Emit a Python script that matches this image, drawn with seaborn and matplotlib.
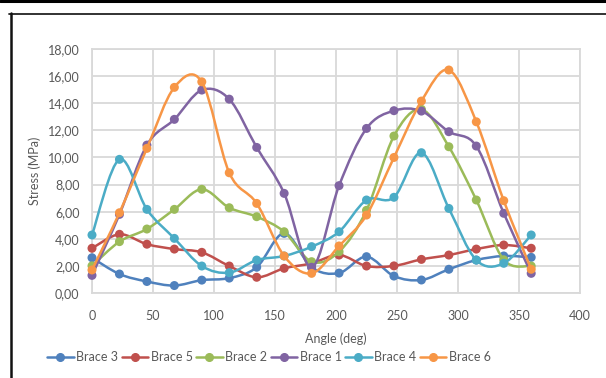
import matplotlib
matplotlib.use("Agg")
import numpy as np
import pandas as pd
import seaborn as sns
import matplotlib.pyplot as plt
from matplotlib.path import Path
from matplotlib.patches import PathPatch
from matplotlib.lines import Line2D
from matplotlib.ticker import FuncFormatter, MultipleLocator

# Stress in each brace versus rotation angle
angles = [0, 22.5, 45, 67.5, 90, 112.5, 135, 157.5, 180,
          202.5, 225, 247.5, 270, 292.5, 315, 337.5, 360]

brace_3 = [2.60, 1.40, 0.85, 0.55, 0.95, 1.10, 1.90, 4.40, 1.90,
           1.47, 2.68, 1.25, 0.96, 1.75, 2.43, 2.73, 2.63]
brace_5 = [3.30, 4.33, 3.60, 3.24, 3.00, 1.99, 1.16, 1.82, 2.19,
           2.80, 1.99, 2.00, 2.48, 2.80, 3.24, 3.54, 3.30]
brace_2 = [2.00, 3.79, 4.72, 6.17, 7.65, 6.29, 5.63, 4.52, 2.31,
           3.05, 6.10, 11.58, 13.55, 10.79, 6.86, 2.45, 1.99]
brace_1 = [1.30, 5.80, 10.91, 12.81, 14.97, 14.30, 10.74, 7.35, 1.90,
           7.92, 12.14, 13.45, 13.42, 11.90, 10.84, 5.88, 1.45]
brace_4 = [4.28, 9.86, 6.17, 4.03, 1.99, 1.50, 2.43, 2.73, 3.42,
           4.52, 6.86, 7.06, 10.35, 6.24, 2.43, 2.19, 4.28]
brace_6 = [1.70, 5.92, 10.67, 15.17, 15.58, 8.87, 6.61, 2.73, 1.45,
           3.47, 5.75, 10.00, 14.16, 16.45, 12.63, 6.81, 1.75]

series_names = ["Brace 3", "Brace 5", "Brace 2", "Brace 1", "Brace 4", "Brace 6"]
series_values = [brace_3, brace_5, brace_2, brace_1, brace_4, brace_6]
colors = ["#4F81BD", "#C0504D", "#9BBB59", "#8064A2", "#4BACC6", "#F79646"]

df = pd.concat(
    [pd.DataFrame({"Angle": angles, "Stress": vals, "Series": name})
     for name, vals in zip(series_names, series_values)],
    ignore_index=True,
)

sns.set_theme(style="white")
plt.rcParams["font.family"] = ["Lato", "DejaVu Sans"]

fig = plt.figure(figsize=(6.06, 3.78), dpi=100)
ax = fig.add_axes([92 / 606, 1 - 293 / 378, (580 - 92) / 606, (293 - 49) / 378])


def smooth_path(xs, ys):
    """Cubic Bezier path through the points (Catmull-Rom style smoothing)."""
    pts = np.column_stack([xs, ys]).astype(float)
    n = len(pts)
    verts = [pts[0]]
    codes = [Path.MOVETO]
    for i in range(n - 1):
        p0 = pts[i - 1] if i > 0 else pts[i]
        p1 = pts[i]
        p2 = pts[i + 1]
        p3 = pts[i + 2] if i + 2 < n else pts[i + 1]
        c1 = p1 + (p2 - p0) / 6.0
        c2 = p2 - (p3 - p1) / 6.0
        verts += [c1, c2, p2]
        codes += [Path.CURVE4] * 3
    return Path(verts, codes)


for k, (name, color) in enumerate(zip(series_names, colors)):
    sub = df[df["Series"] == name]
    patch = PathPatch(smooth_path(sub["Angle"], sub["Stress"]), facecolor="none",
                      edgecolor=color, lw=1.8, zorder=3 + k * 0.1,
                      capstyle="round", joinstyle="round")
    ax.add_patch(patch)
    sns.scatterplot(data=sub, x="Angle", y="Stress", color=color, s=42,
                    edgecolor="none", ax=ax, legend=False, zorder=3.05 + k * 0.1,
                    clip_on=False)

ax.set_xlim(0, 400)
ax.set_ylim(0, 18)
ax.xaxis.set_major_locator(MultipleLocator(50))
ax.yaxis.set_major_locator(MultipleLocator(2))
ax.yaxis.set_major_formatter(FuncFormatter(lambda v, p: f"{v:.2f}".replace(".", ",")))
ax.grid(True, color="#D9D9D9", lw=1.3)
ax.set_axisbelow(True)
for sp in ax.spines.values():
    sp.set_color("#D9D9D9")
    sp.set_linewidth(1.3)
ax.tick_params(axis="both", length=0, labelsize=9, colors="#595959", pad=9)
ax.tick_params(axis="x", pad=12)
ax.set_xlabel("Angle (deg)", fontsize=9, color="#595959", labelpad=8)
ax.set_ylabel("Stress (MPa)", fontsize=9, color="#595959", labelpad=5)

handles = [Line2D([0], [0], color=c, lw=1.8, marker="o", markersize=5.5)
           for c in colors]
leg = fig.legend(handles, series_names, loc="center", ncol=6,
                 bbox_to_anchor=(269 / 606, 1 - 357 / 378), frameon=False,
                 fontsize=9, handlelength=2.1, handletextpad=0.2,
                 columnspacing=0.3, borderaxespad=0)
for t in leg.get_texts():
    t.set_color("#595959")

# Surrounding frame
fig.add_artist(Line2D([0, 1], [1 - 1 / 378, 1 - 1 / 378], transform=fig.transFigure,
                      color="black", lw=2.2))
fig.add_artist(Line2D([9 / 606, 1], [1 - 13.5 / 378, 1 - 13.5 / 378],
                      transform=fig.transFigure, color="#222222", lw=1.3))
fig.add_artist(Line2D([10.5 / 606, 10.5 / 606], [0, 1 - 13 / 378],
                      transform=fig.transFigure, color="#111111", lw=1.8))

fig.savefig("out.png", dpi=100)
